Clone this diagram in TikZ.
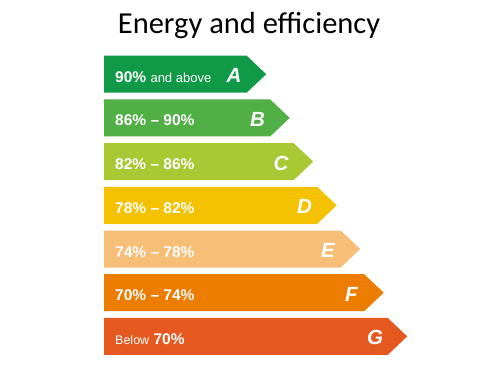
\documentclass[tikz,border=0pt]{standalone}
\usepackage{fontspec}
\setmainfont{Liberation Sans}
\newfontfamily\titlefont{Carlito}
\usepackage{tikz}
\definecolor{ratingA}{RGB}{16,154,71}
\definecolor{ratingB}{RGB}{80,176,70}
\definecolor{ratingC}{RGB}{168,200,52}
\definecolor{ratingD}{RGB}{244,194,0}
\definecolor{ratingE}{RGB}{247,190,120}
\definecolor{ratingF}{RGB}{237,125,0}
\definecolor{ratingG}{RGB}{229,88,32}
\tikzset{
  bandtext/.style={anchor=base west,text=white,inner sep=0pt,font=\bfseries\fontsize{15.5}{18}\selectfont},
  bandletter/.style={anchor=base,text=white,inner sep=0pt,font=\bfseries\itshape\fontsize{20.5}{24}\selectfont}
}
% one band: #1 = index, #2 = colour
\newcommand{\band}[2]{%
    \fill[#2] (104,55.7+43.7*#1) -- ++(142.7+23.5*#1,0) -- ++(19.5,18.5)
      -- ++(-19.5,18.5) -- ++(-142.7-23.5*#1,0) -- cycle;
}

\begin{document}
\begin{tikzpicture}[x=1pt,y=-1pt]
          \useasboundingbox (0,0) rectangle (500,375);
          \node[anchor=base,inner sep=0pt,font=\titlefont\fontsize{30.5}{34}\selectfont] (title) at (249,33) {Energy and efficiency};

          \foreach \n/\col/\range/\grade in {
            0/ratingA/{90\% {\mdseries\fontsize{13}{15}\selectfont and above}}/A,
            1/ratingB/{86\% -- 90\%}/B,
            2/ratingC/{82\% -- 86\%}/C,
            3/ratingD/{78\% -- 82\%}/D,
            4/ratingE/{74\% -- 78\%}/E,
            5/ratingF/{70\% -- 74\%}/F,
            6/ratingG/{{\mdseries\fontsize{12.5}{15}\selectfont Below} 70\%}/G} {
            \band{\n}{\col}
            \node[bandtext] (range\grade) at (115,82.2+43.7*\n) {\range};
            \node[bandletter] (grade\grade) at (234+23.5*\n,82.7+43.7*\n) {\grade};
          }
        \end{tikzpicture}
\end{document}
